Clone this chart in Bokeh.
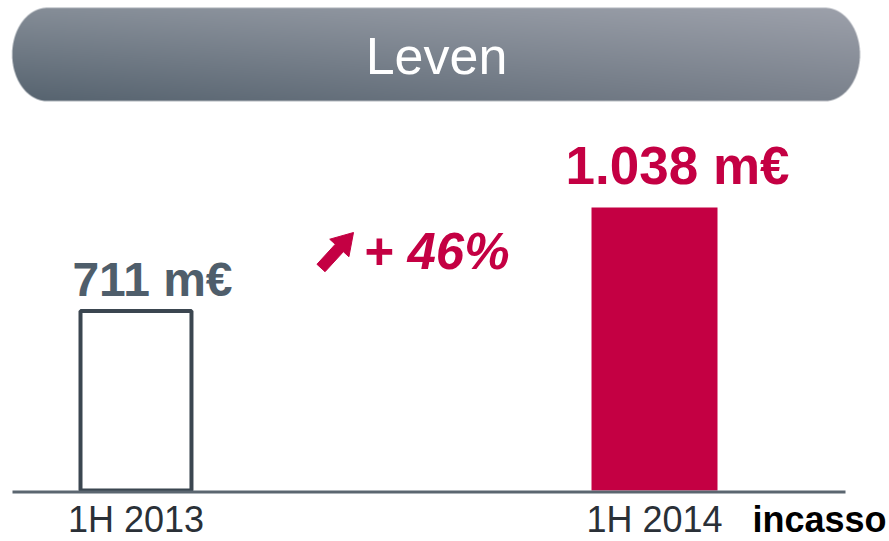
import numpy as np
from bokeh.plotting import figure
from bokeh.models import Range1d, Label
from bokeh.embed import file_html
from bokeh.resources import INLINE

# ---------------- data ----------------
title = "Leven"
categories = ["1H 2013", "1H 2014"]
values = [711, 1038]
unit = "m€"
measure_label = "incasso"

# ---------------- layout / style ----------------
W, H = 889, 541
RED = "#c40043"
SLATE = "#4f5e6b"
OUTLINE = "#3b4650"
AXIS_COL = "#5b6670"
FONT = "Liberation Sans"
AXIS_FLOOR = 143.9          # truncated value axis (bars start here)
BL = 0.38                   # label anchor -> baseline correction (fraction of font size)


def px_x(sx):
    return sx


def px_y(sy):
    return H - sy


idx = list(range(len(categories)))

p = figure(width=W, height=H, output_backend="svg", toolbar_location=None,
           min_border=0, x_axis_location=None, y_axis_location=None,
           x_range=Range1d(-0.2613, 1.4532), y_range=Range1d(-17.2, 1692.1))
p.grid.visible = False
p.outline_line_color = None
p.background_fill_color = "white"
p.border_fill_color = "white"
p.extra_x_ranges = {"px": Range1d(0, W)}
p.extra_y_ranges = {"px": Range1d(0, H)}

# ---------------- header pill with gradient ----------------
sx0, sx1, sy0, sy1 = 11.7, 859.5, 7.3, 100.6
ix0, iy0, iw, ih = 11, 7, 850, 95
ss = 4
xs = ix0 + (np.arange(iw * ss) + 0.5) / ss
ys = iy0 + (np.arange(ih * ss) + 0.5) / ss
X, Y = np.meshgrid(xs, ys)
rx, ry = 35.0, (sy1 - sy0) / 2
cy = (sy0 + sy1) / 2
cxl, cxr = sx0 + rx, sx1 - rx
dx = np.where(X < cxl, X - cxl, np.where(X > cxr, X - cxr, 0.0))
inside = ((dx / rx) ** 2 + ((Y - cy) / ry) ** 2) <= 1.0
cov = inside.reshape(ih, ss, iw, ss).mean(axis=(1, 3))

xc = ix0 + np.arange(iw) + 0.5
yc = iy0 + np.arange(ih) + 0.5
XC, YC = np.meshgrid(xc, yc)
h = np.clip((XC - sx0) / (sx1 - sx0), 0, 1)[..., None]
v = np.clip((YC - sy0) / (sy1 - sy0), 0, 1)[..., None]
LT = np.array([133, 141, 151.0])
RT = np.array([157, 161, 171.0])
LB = np.array([86, 99, 111.0])
RB = np.array([122, 129, 140.0])
col = LT * (1 - h) * (1 - v) + RT * h * (1 - v) + LB * (1 - h) * v + RB * h * v

rgba = np.zeros((ih, iw, 4), dtype=np.uint8)
rgba[..., :3] = np.clip(col, 0, 255).astype(np.uint8)
rgba[..., 3] = np.clip(cov * 255, 0, 255).astype(np.uint8)
rgba = np.ascontiguousarray(rgba[::-1])
img = rgba.view(np.uint32).reshape(ih, iw)
p.image_rgba(image=[img], x=px_x(ix0), y=px_y(iy0 + ih), dw=iw, dh=ih,
             x_range_name="px", y_range_name="px")


def base_y(sy, size):
    """px-range y for a label whose baseline should sit at screen y `sy`."""
    return px_y(sy - BL * size)


p.add_layout(Label(x=px_x(436), y=base_y(75, 52), text=title, x_range_name="px", y_range_name="px",
                   text_align="center", text_baseline="alphabetic",
                   text_font=FONT, text_font_size="52px", text_color="white"))

# ---------------- bars ----------------
p.vbar(x=idx[:1], top=values[:1], bottom=AXIS_FLOOR, width=0.214,
       fill_color="white", line_color=OUTLINE, line_width=4)
p.vbar(x=idx[1:], top=values[1:], bottom=AXIS_FLOOR, width=0.243,
       fill_color=RED, line_color=None)

# baseline
p.segment(x0=[px_x(12)], y0=[px_y(491.5)], x1=[px_x(845)], y1=[px_y(491.5)],
          line_color=AXIS_COL, line_width=3, x_range_name="px", y_range_name="px")

# ---------------- value labels ----------------
def fmt(val):
    return f"{val:,}".replace(",", ".") + " " + unit

val_styles = [
    dict(color=SLATE, size=48, dx=16.5, dy=13),
    dict(color=RED, size=53, dx=23, dy=22),
]
for i, (val, st) in enumerate(zip(values, val_styles)):
    p.add_layout(Label(x=idx[i], y=val, text=fmt(val), x_offset=st["dx"],
                       y_offset=st["dy"] + BL * st["size"],
                       text_align="center", text_baseline="alphabetic",
                       text_font=FONT, text_font_style="bold",
                       text_font_size=f"{st['size']}px", text_color=st["color"]))

# ---------------- growth annotation ----------------
pct = round((values[1] / values[0] - 1) * 100)
p.add_layout(Label(x=px_x(363), y=base_y(270, 51), text=f"+ {pct}%", x_range_name="px", y_range_name="px",
                   text_align="left", text_baseline="alphabetic",
                   text_font=FONT, text_font_style="bold italic",
                   text_font_size="51px", text_color=RED))

tip = np.array([353.0, 232.0])
tail = np.array([320.5, 267.5])
u = (tip - tail) / np.linalg.norm(tip - tail)
n = np.array([-u[1], u[0]])
if n[0] < 0:
    n = -n
hb = tip - 21 * u
pts = [tip, hb - 13 * n, hb - 5.5 * n, tail - 5.5 * n, tail + 5.5 * n, hb + 5.5 * n, hb + 13 * n]
p.patch(x=[px_x(a) for a, b in pts], y=[px_y(b) for a, b in pts],
        fill_color=RED, line_color=RED, line_width=1, line_join="round",
        x_range_name="px", y_range_name="px")

# ---------------- category labels ----------------
for i, cat in enumerate(categories):
    p.add_layout(Label(x=idx[i], y=base_y(533, 36), text=cat, y_range_name="px",
                       text_align="center", text_baseline="alphabetic",
                       text_font=FONT, text_font_size="36px", text_color="#2a3037"))

p.add_layout(Label(x=px_x(752), y=base_y(533, 36), text=measure_label, x_range_name="px", y_range_name="px",
                   text_align="left", text_baseline="alphabetic",
                   text_font=FONT, text_font_style="bold", text_font_size="36px",
                   text_color="black"))

open("out.html", "w").write(file_html(p, INLINE))
